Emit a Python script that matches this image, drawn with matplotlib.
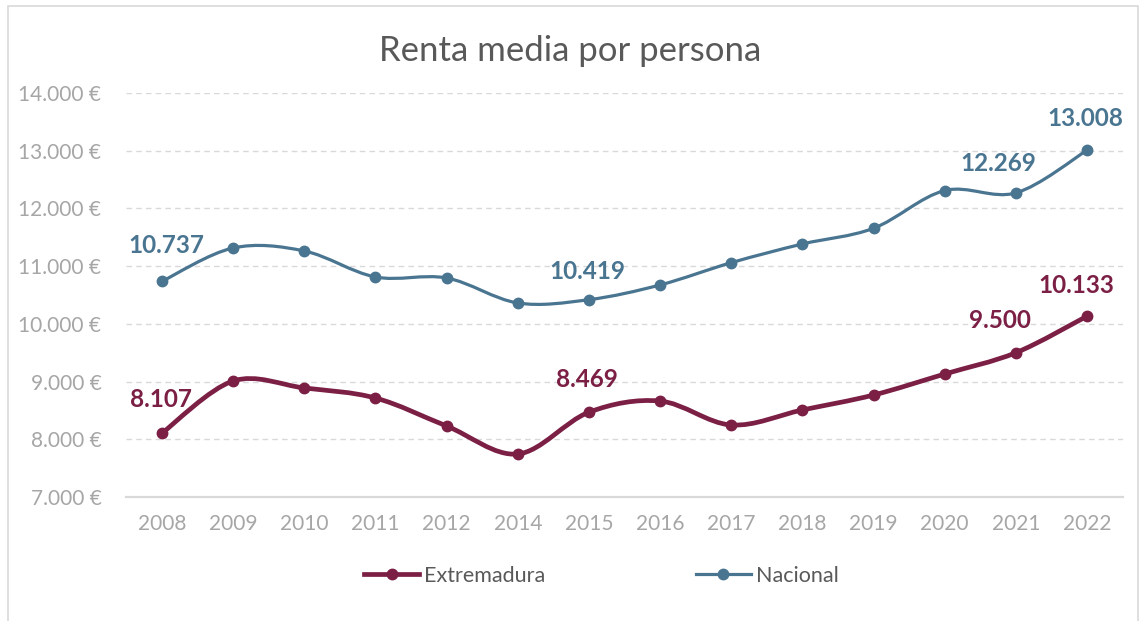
import matplotlib
matplotlib.use("Agg")
import matplotlib.pyplot as plt
from matplotlib.path import Path
from matplotlib.patches import PathPatch, Rectangle
from matplotlib.lines import Line2D
from matplotlib.ticker import FuncFormatter, MultipleLocator
import numpy as np

plt.rcParams['font.family'] = ['Lato', 'DejaVu Sans']

years = ['2008', '2009', '2010', '2011', '2012', '2014', '2015', '2016',
         '2017', '2018', '2019', '2020', '2021', '2022']
extremadura = [8107, 9010, 8889, 8715, 8230, 7745, 8469, 8663,
               8248, 8508, 8767, 9131, 9500, 10133]
nacional = [10737, 11315, 11263, 10812, 10795, 10362, 10419, 10674,
            11060, 11384, 11656, 12310, 12269, 13008]
labelled = [0, 6, 12, 13]

col_ext = '#7B1F45'
col_nac = '#4A7591'
gray_txt = '#A6A6A6'

W, H = 1140, 621
fig = plt.figure(figsize=(W / 100, H / 100), dpi=100)
ax = fig.add_axes([126.4 / W, (H - 497) / H, 996.2 / W, 404 / H])


def smooth_path(xs, ys):
    pts = np.column_stack([xs, ys]).astype(float)
    n = len(pts)
    verts = [pts[0]]
    codes = [Path.MOVETO]
    for i in range(n - 1):
        p0 = pts[i - 1] if i > 0 else pts[i]
        p1 = pts[i]
        p2 = pts[i + 1]
        p3 = pts[i + 2] if i + 2 < n else pts[i + 1]
        c1 = p1 + (p2 - p0) / 6.0
        c2 = p2 - (p3 - p1) / 6.0
        verts += [c1, c2, p2]
        codes += [Path.CURVE4] * 3
    return Path(verts, codes)


x = np.arange(len(years))
for vals, col, lw in [(nacional, col_nac, 2.3), (extremadura, col_ext, 3.4)]:
    ax.add_patch(PathPatch(smooth_path(x, vals), fill=False, edgecolor=col,
                           lw=lw, capstyle='round', joinstyle='round', zorder=3))
    ax.plot(x, vals, linestyle='none', marker='o', ms=7.5, color=col, zorder=4)

# data labels (offsets in pixels -> points)
off_nac = {0: (4, 36), 6: (-2, 28), 12: (-18, 29), 13: (-2, 32)}
off_ext = {0: (-1, 34), 6: (-2, 33), 12: (-16, 32), 13: (-11, 31)}
for vals, col, offs in [(nacional, col_nac, off_nac), (extremadura, col_ext, off_ext)]:
    for i in labelled:
        dx, dy = offs[i]
        ax.annotate(f"{vals[i]:,}".replace(',', '.'), (x[i], vals[i]),
                    xytext=(dx * 0.72, dy * 0.72), textcoords='offset points',
                    ha='center', va='center', fontsize=17.5, fontweight='bold',
                    color=col, zorder=5)

ax.set_xlim(-0.5, len(years) - 0.5)
ax.set_ylim(7000, 14000)
ax.set_xticks(x)
ax.set_xticklabels(years)
ax.yaxis.set_major_locator(MultipleLocator(1000))
ax.yaxis.set_major_formatter(FuncFormatter(lambda v, p: f"{int(v):,} €".replace(',', '.')))
ax.tick_params(axis='both', length=0, labelsize=15, colors=gray_txt)
ax.tick_params(axis='y', pad=18)
ax.tick_params(axis='x', pad=12)
ax.grid(axis='y', color='#D9D9D9', lw=1, linestyle=(0, (4, 3)))
ax.set_axisbelow(True)
for s in ['top', 'right', 'left']:
    ax.spines[s].set_visible(False)
ax.spines['bottom'].set_color('#D9D9D9')
ax.spines['bottom'].set_linewidth(1.6)

fig.text(0.5, 1 - 51 / H, 'Renta media por persona', ha='center', va='center',
         fontsize=25, color='#595959')

handles = [Line2D([], [], color=col_ext, lw=3.4, marker='o', ms=7.5),
           Line2D([], [], color=col_nac, lw=2.3, marker='o', ms=7.5)]
fig.legend(handles, ['Extremadura', 'Nacional'], loc='center',
           bbox_to_anchor=(0.5275, 1 - 576 / H), ncol=2, frameon=False,
           fontsize=15.5, labelcolor='#595959', handlelength=2.55,
           handletextpad=0.23, columnspacing=7.0)

fig.add_artist(Rectangle((8 / W, -0.1), (1138 - 8) / W, 1.1 - 6 / H,
                         transform=fig.transFigure, fill=False,
                         edgecolor='#D9D9D9', lw=1.2))

fig.savefig('out.png', dpi=100)
